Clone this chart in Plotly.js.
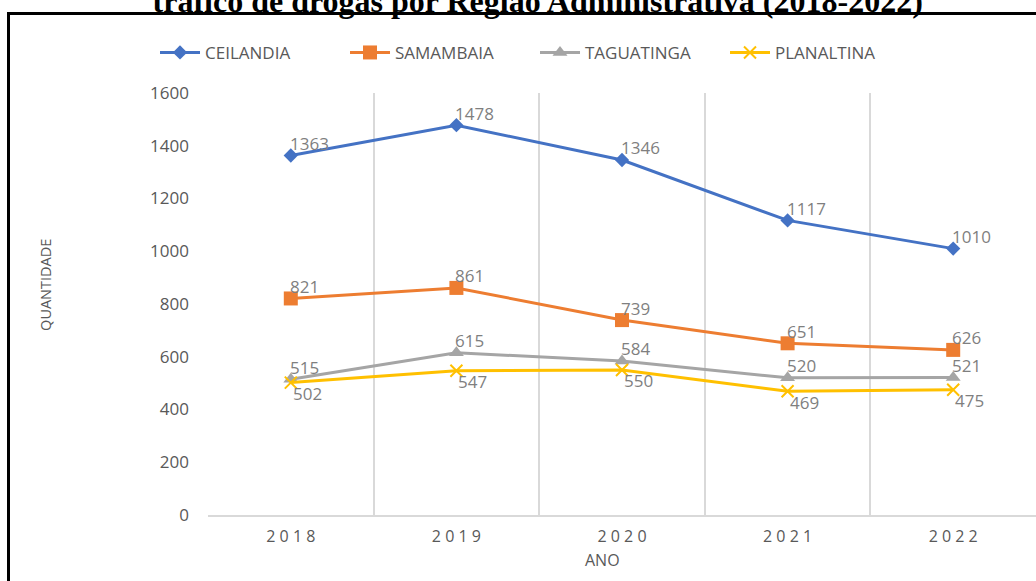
<!DOCTYPE html>
<html>
<head>
<meta charset="utf-8">
<script src="https://cdn.plot.ly/plotly-3.0.1.min.js"></script>
<style>
  html, body { margin: 0; padding: 0; background: #fff; }
  #wrap { position: relative; width: 1036px; height: 581px; overflow: hidden; }
  #chart { width: 1036px; height: 581px; }
  #frame { position: absolute; left: 7px; top: 12px; width: 1200px; height: 800px;
           border-left: 3px solid #000; border-top: 3px solid #000; pointer-events: none; }
</style>
</head>
<body>
<div id="wrap">
  <div id="chart"></div>
  <div id="frame"></div>
</div>
<script>
const years = [2018, 2019, 2020, 2021, 2022];
const yearLabels = ['2 0 1 8', '2 0 1 9', '2 0 2 0', '2 0 2 1', '2 0 2 2'];
const gridBounds = [2017.5, 2018.5, 2019.5, 2020.5, 2021.5, 2022.5];
const seriesNames = ['CEILANDIA', 'SAMAMBAIA', 'TAGUATINGA', 'PLANALTINA'];
const ceilandia = [1363, 1478, 1346, 1117, 1010];
const samambaia = [821, 861, 739, 651, 626];
const taguatinga = [515, 615, 584, 520, 521];
const planaltina = [502, 547, 550, 469, 475];
const yTicks = [0, 200, 400, 600, 800, 1000, 1200, 1400, 1600];

const colors = ['#4472C4', '#ED7D31', '#A5A5A5', '#FFC000'];
const symbols = ['diamond', 'square', 'triangle-up', 'x-thin'];
const msizes = [11, 14, 13, 12];
const labelBelow = [false, false, false, true];
const values = [ceilandia, samambaia, taguatinga, planaltina];

const traces = values.map((v, i) => ({
  type: 'scatter',
  mode: 'lines+markers',
  name: seriesNames[i],
  x: years,
  y: v,
  line: { color: colors[i], width: 3 },
  marker: { symbol: symbols[i], size: msizes[i], color: colors[i],
            line: { color: colors[i], width: i === 3 ? 2 : 0 } },
  cliponaxis: false
}));

const labelAnns = [];
values.forEach((v, i) => {
  v.forEach((val, j) => {
    labelAnns.push({
      x: years[j], y: val, xref: 'x', yref: 'y',
      text: String(val), showarrow: false,
      xanchor: 'left', yanchor: 'middle',
      xshift: labelBelow[i] ? 0 : -3,
      yshift: labelBelow[i] ? -11 : 12,
      font: { family: 'Open Sans', size: 17, color: '#7f7f7f' }
    });
  });
});

const layout = {
  width: 1036, height: 581,
  margin: { l: 208, r: 0, t: 93, b: 66 },
  paper_bgcolor: '#fff', plot_bgcolor: '#fff',
  showlegend: true,
  title: {
    text: '<b>tráfico de drogas por Região Administrativa (2018-2022)</b>',
    font: { family: 'Liberation Serif', size: 32, color: '#000' },
    x: 0.519, xanchor: 'center', xref: 'container',
    y: 0.979, yanchor: 'bottom', yref: 'container'
  },
  legend: {
    orientation: 'h', x: -0.064, xanchor: 'left', y: 1.095, yanchor: 'middle',
    font: { family: 'Open Sans', size: 17, color: '#595959' },
    itemwidth: 40, traceorder: 'normal', entrywidth: 135
  },
  xaxis: {
    type: 'linear', range: [2017.5, 2022.5], fixedrange: true,
    tickmode: 'array', tickvals: years, ticktext: yearLabels,
    showgrid: false, zeroline: false,
    showline: true, linecolor: '#d9d9d9', linewidth: 2,
    ticks: '', ticklabelstandoff: 6,
    tickfont: { family: 'Open Sans', size: 16, color: '#595959' },
    minor: { tickmode: 'array', tickvals: gridBounds, showgrid: true,
             gridcolor: '#d9d9d9', gridwidth: 2, ticks: '' }
  },
  yaxis: {
    range: [0, 1600], fixedrange: true,
    tickmode: 'array', tickvals: yTicks,
    showgrid: false, zeroline: false, showline: false,
    ticks: '', ticklabelstandoff: 18,
    tickfont: { family: 'Open Sans', size: 17, color: '#595959' }
  },
  annotations: labelAnns.concat([
    { text: 'ANO', xref: 'paper', yref: 'paper', x: 0.477, y: -0.1066,
      xanchor: 'center', yanchor: 'middle', showarrow: false,
      font: { family: 'Open Sans', size: 16, color: '#595959' } },
    { text: 'QUANTIDADE', xref: 'paper', yref: 'paper', x: -0.197, y: 0.545,
      xanchor: 'center', yanchor: 'middle', showarrow: false, textangle: -90,
      font: { family: 'Open Sans', size: 14.5, color: '#595959' } }
  ])
};

Plotly.newPlot('chart', traces, layout, { displayModeBar: false, staticPlot: true });
</script>
</body>
</html>
